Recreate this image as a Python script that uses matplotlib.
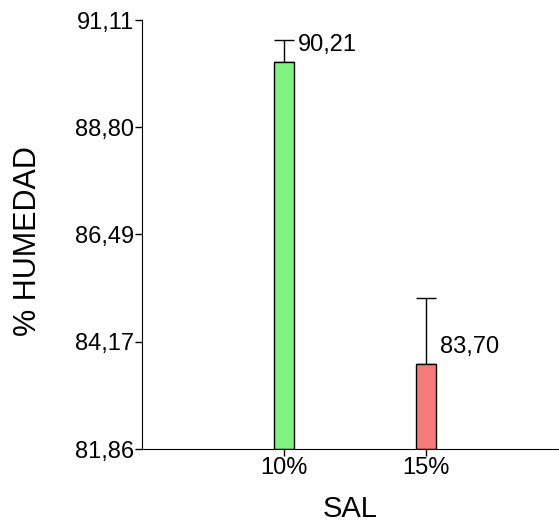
import matplotlib
matplotlib.use("Agg")
from matplotlib import pyplot as plt
import numpy as np

plt.rcParams['font.family'] = ['Liberation Sans', 'DejaVu Sans']

# Data
categories = ['10%', '15%']
means = [90.21, 83.70]
errors = [0.46, 1.42]
value_labels = ['90,21', '83,70']
yticks = [81.86, 84.17, 86.49, 88.80, 91.11]
ytick_labels = ['81,86', '84,17', '86,49', '88,80', '91,11']
colors = ['#7ff27f', '#f77b7b']

fig = plt.figure(figsize=(5.59, 5.25), dpi=100)
# axes box: left spine at x=142px, bottom at y=449px, top at y=20px
ax = fig.add_axes([142 / 559, 76 / 525, 417 / 559, 429 / 525])

x = np.arange(1, len(categories) + 1)
bottom = yticks[0]
heights = [m - bottom for m in means]
ax.bar(x, heights, bottom=bottom, width=0.14, color=colors,
       edgecolor='black', linewidth=1, zorder=2)
ax.errorbar(x, means, yerr=[np.zeros(len(errors)), errors], fmt='none',
            ecolor='black', elinewidth=1, capsize=7.2, capthick=1, zorder=1)

for xi, m, lab in zip(x, means, value_labels):
    ax.annotate(lab, xy=(xi + 0.07, m), xytext=(3, 12), textcoords='offset points',
                ha='left', va='center', fontsize=17)

ax.set_xlim(0, 417 / 142)
ax.set_ylim(yticks[0], yticks[-1])
ax.set_xticks(x)
ax.set_xticklabels(categories, fontsize=17)
ax.set_yticks(yticks)
ax.set_yticklabels(ytick_labels, fontsize=17)
ax.tick_params(direction='out', length=5, width=1, pad=1)

ax.spines['top'].set_visible(False)
ax.spines['right'].set_visible(False)

ax.set_xlabel('SAL', fontsize=21, va='center')
ax.set_ylabel('% HUMEDAD', fontsize=22, va='center')
ax.xaxis.set_label_coords(0.5, -(509 - 449) / 429)
ax.yaxis.set_label_coords(-(142 - 28) / 417, (449 - 241) / 429)

fig.savefig('out.png', dpi=100)
